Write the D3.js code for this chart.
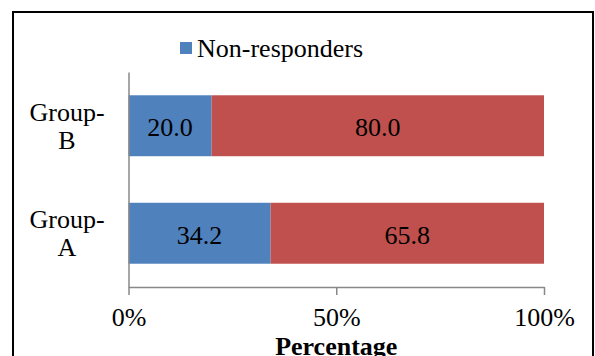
<!DOCTYPE html>
<html>
<head>
<meta charset="utf-8">
<script src="https://cdn.jsdelivr.net/npm/d3@7"></script>
</head>
<body style="margin:0">
<script>
// Chart data
const categories = ["Group-B", "Group-A"];
const nonResponders = [20.0, 34.2];
const responders = [80.0, 65.8];
const seriesNames = ["Non-responders", "Responders"];
const legendEntries = ["Non-responders"];
const xTicks = [0, 50, 100];
const xTickLabels = ["0%", "50%", "100%"];
const xTitle = "Percentage";

const W = 595, H = 356;
const colors = { "Non-responders": "#4F81BD", "Responders": "#C0504D" };
const fontSize = 26;
const serif = '"Liberation Serif"';

const svg = d3.select("body").append("svg")
  .attr("width", W).attr("height", H);

// Outer chart frame (bottom edge runs below the visible area)
svg.append("rect")
  .attr("x", 13).attr("y", 12)
  .attr("width", 580).attr("height", 360)
  .attr("fill", "#fff").attr("stroke", "#000").attr("stroke-width", 2);

const plot = { left: 128.5, right: 544, top: 72, bottom: 287 };

const x = d3.scaleLinear().domain([0, 100]).range([plot.left, plot.right]);
const y = d3.scaleBand().domain(categories)
  .range([plot.top, plot.bottom])
  .paddingInner(0.433).paddingOuter(0.2165);

// Stack the two series for each group
const rows = categories.map((c, i) => ({
  cat: c, "Non-responders": nonResponders[i], "Responders": responders[i]
}));
const stack = d3.stack().keys(seriesNames)(rows);

const layers = svg.append("g").selectAll("g").data(stack).join("g")
  .attr("fill", d => colors[d.key]);

layers.selectAll("rect").data(d => d).join("rect")
  .attr("x", d => x(d[0]))
  .attr("y", d => y(d.data.cat))
  .attr("width", d => x(d[1]) - x(d[0]))
  .attr("height", y.bandwidth());

// Value labels in the middle of each segment
layers.selectAll("text").data(d => d.map(v => ({ v, key: d.key }))).join("text")
  .attr("x", d => x((d.v[0] + d.v[1]) / 2))
  .attr("y", d => y(d.v.data.cat) + y.bandwidth() / 2 + 10.5)
  .attr("text-anchor", "middle")
  .attr("font-size", fontSize)
  .attr("fill", "#000")
  .style("font-family", serif)
  .text(d => (d.v[1] - d.v[0]).toFixed(1));

// X axis
const xAxis = svg.append("g")
  .attr("transform", `translate(0,${plot.bottom})`)
  .call(d3.axisBottom(x).tickValues(xTicks)
    .tickFormat((d, i) => xTickLabels[i])
    .tickSize(8).tickSizeOuter(0).tickPadding(13));
xAxis.select(".domain").attr("stroke", "#888").attr("stroke-width", 1.5);
xAxis.selectAll(".tick line").attr("stroke", "#888").attr("stroke-width", 1.5);
xAxis.selectAll(".tick text")
  .attr("font-size", fontSize)
  .style("font-family", serif)
  .attr("fill", "#000");

// Y axis line
const yAxis = svg.append("g")
  .attr("transform", `translate(${plot.left},0)`)
  .call(d3.axisLeft(y).tickSize(0).tickSizeOuter(0).tickFormat(""));
yAxis.select(".domain").attr("stroke", "#888").attr("stroke-width", 1.5);

// Category labels on two lines
const catLabels = svg.append("g").selectAll("text").data(categories).join("text")
  .attr("text-anchor", "middle")
  .attr("font-size", fontSize)
  .attr("fill", "#000")
  .style("font-family", serif);
catLabels.each(function (c) {
  const cy = y(c) + y.bandwidth() / 2;
  const parts = [c.slice(0, c.indexOf("-") + 1), c.slice(c.indexOf("-") + 1)];
  d3.select(this).selectAll("tspan").data(parts).join("tspan")
    .attr("x", 67)
    .attr("y", (p, i) => cy - 5 + i * 28)
    .text(p => p);
});

// Axis title
svg.append("text")
  .attr("x", x(50)).attr("y", 355)
  .attr("text-anchor", "middle")
  .attr("font-size", fontSize)
  .attr("font-weight", "bold")
  .attr("fill", "#000")
  .style("font-family", serif)
  .text(xTitle);

// Legend
const legend = svg.append("g").selectAll("g").data(legendEntries).join("g");
legend.append("rect")
  .attr("x", 180).attr("y", 42).attr("width", 12).attr("height", 12)
  .attr("fill", d => colors[d]);
legend.append("text")
  .attr("x", 197).attr("y", 57)
  .attr("font-size", fontSize)
  .attr("fill", "#000")
  .style("font-family", serif)
  .text(d => d);
</script>
</body>
</html>
